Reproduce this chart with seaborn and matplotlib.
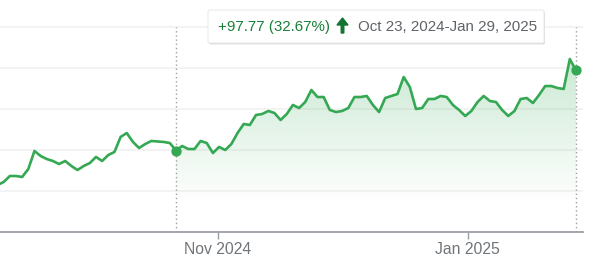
import numpy as np
import pandas as pd
import matplotlib
matplotlib.use("Agg")
import matplotlib.pyplot as plt
import seaborn as sns
from matplotlib.patches import FancyBboxPatch, FancyArrow

# ---- data (trading-day index, 0 = Oct 23, 2024; 65 = Jan 29, 2025) ----
day_index = list(range(-29, 66))
prices = [
    257.3, 261.0, 268.3, 268.3, 267.1, 276.8, 298.8, 292.7, 289.0, 286.6,
    282.9, 286.6, 280.5, 275.6, 280.5, 284.1, 291.5, 286.6, 293.9, 297.6,
    315.9, 320.7, 309.8, 302.4, 307.3, 311.0, 310.4, 309.8, 308.5,
    299.27, 304.9, 301.2, 301.2, 311.0, 308.5, 296.3, 303.7, 300.0, 307.3,
    320.7, 331.7, 330.5, 342.7, 343.9, 347.6, 345.1, 336.6, 343.9, 354.9,
    351.2, 358.5, 373.2, 364.6, 364.6, 348.8, 346.3, 347.6, 351.2, 364.6,
    364.6, 365.9, 354.9, 346.3, 363.4, 365.9, 368.3, 389.0, 376.8, 350.0,
    351.2, 362.2, 362.2, 365.9, 364.6, 354.9, 348.8, 341.5, 347.6, 358.5,
    365.9, 359.8, 358.5, 348.8, 341.5, 347.6, 362.2, 363.4, 357.3, 367.1,
    378.0, 378.0, 375.6, 374.4, 411.0, 397.04,
]
tick_positions = [6.8, 47.4]
tick_labels = ["Nov 2024", "Jan 2025"]
grid_values = [250, 300, 350, 400, 450]
change_text = "+97.77 (32.67%)"
range_text = "Oct 23, 2024-Jan 29, 2025"

df = pd.DataFrame({"day": day_index, "price": prices})
sel = df[df["day"] >= 0]

GREEN = "#34a853"

sns.set_theme(style="white")
plt.rcParams["font.family"] = ["Liberation Sans", "DejaVu Sans"]

W, H = 609, 275
fig = plt.figure(figsize=(W / 100, H / 100), dpi=100)
ax = fig.add_axes([0, (H - 232) / H, 583 / W, 232 / H])

ymin, ymax = 200, 200 + 232 * 50 / 41
ax.set_ylim(ymin, ymax)
ax.set_xlim(-28.6, 66.14)

# grid
for g in grid_values:
    ax.axhline(g, color="#f1f1f1", lw=1.2, zorder=0)

# gradient fill under selected range
poly = ax.fill_between(sel["day"], sel["price"], ymin, color="none", lw=0)
top_v, bot_v = 415, 235
rgba = np.zeros((256, 1, 4))
rgba[..., 0], rgba[..., 1], rgba[..., 2] = matplotlib.colors.to_rgb(GREEN)
vals = np.linspace(ymax, ymin, 256)
alpha = np.clip((vals - bot_v) / (top_v - bot_v), 0, 1) * 0.26
rgba[:, 0, 3] = alpha
img = ax.imshow(rgba, extent=[sel["day"].min(), sel["day"].max(), ymin, ymax],
                aspect="auto", zorder=1, origin="upper")
img.set_clip_path(poly.get_paths()[0], transform=ax.transData)

# line
sns.lineplot(data=df, x="day", y="price", ax=ax, color=GREEN, lw=1.9, zorder=3)

# dotted range markers
ax.vlines([sel["day"].min(), sel["day"].max()], ymin, 450, colors="#a0a0a0",
          linestyles=(0, (1, 2)), lw=1.0, zorder=2)
ends = sel.iloc[[0, -1]]
ax.scatter(ends["day"], ends["price"], s=55, color=GREEN, zorder=4, lw=0)

# axes styling
for s in ["top", "right", "left"]:
    ax.spines[s].set_visible(False)
ax.spines["bottom"].set_color("#9aa0a6")
ax.spines["bottom"].set_linewidth(1.3)
ax.set_yticks([])
ax.set_xticks(tick_positions)
ax.set_xticklabels(tick_labels)
ax.tick_params(axis="x", direction="out", length=5, width=1, color="#9aa0a6",
               labelsize=11.3, labelcolor="#70757a", pad=2.5, bottom=True)
ax.set_xlabel("")
ax.set_ylabel("")
ax.patch.set_alpha(0)

# tooltip box
def px(x, y):
    return x / W, 1 - y / H

x0, y0, x1, y1 = 208, 10, 544, 43
shadow = FancyBboxPatch(px(x0 + 1, y1 + 1.5), (x1 - x0) / W, (y1 - y0) / H,
                        boxstyle="round,pad=0,rounding_size=0.004",
                        transform=fig.transFigure, fc="#d9d9d9", ec="none",
                        alpha=0.8, zorder=9)
box = FancyBboxPatch(px(x0, y1), (x1 - x0) / W, (y1 - y0) / H,
                     boxstyle="round,pad=0,rounding_size=0.004",
                     transform=fig.transFigure, fc="white", ec="#e6e6e6",
                     lw=0.6, zorder=10)
fig.patches.extend([shadow, box])
fig.text(*px(218, 27), change_text, color="#188038", fontsize=10.9,
         va="center", ha="left", zorder=11)
arr = FancyArrow(342.5 / W, 1 - 33 / H, 0, 15 / H, width=2.6 / W,
                 head_width=11 / W, head_length=7 / H, length_includes_head=True,
                 transform=fig.transFigure, color="#137333", zorder=11)
fig.patches.append(arr)
fig.text(*px(358, 27), range_text, color="#5f6368", fontsize=10.9,
         va="center", ha="left", zorder=11)

fig.savefig("out.png", dpi=100)
